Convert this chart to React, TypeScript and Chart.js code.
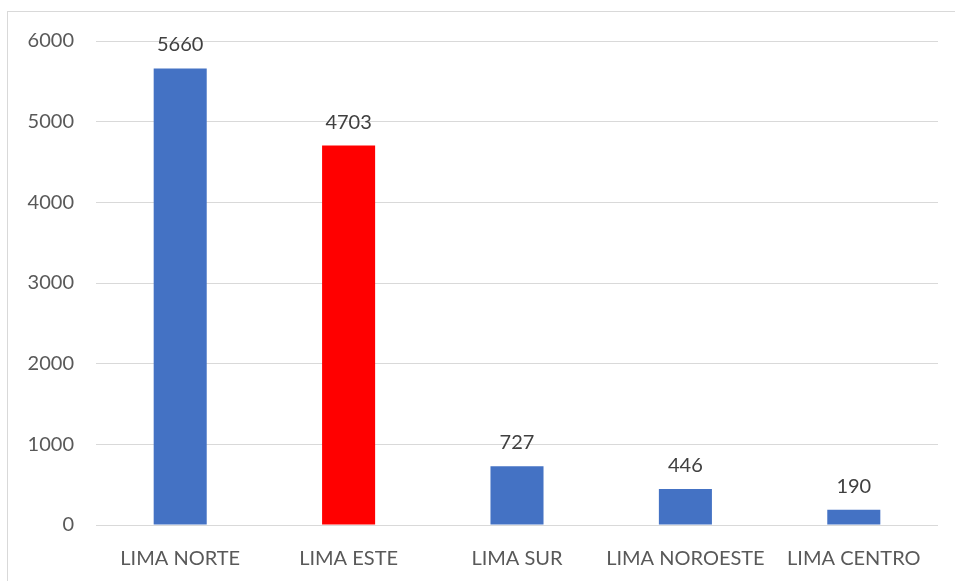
import React, { useEffect, useRef } from "react";
import { Chart, registerables } from "chart.js";

Chart.register(...registerables);

const categories = ["LIMA NORTE", "LIMA ESTE", "LIMA SUR", "LIMA NOROESTE", "LIMA CENTRO"];
const values = [5660, 4703, 727, 446, 190];
const barColors = ["#4472C4", "#FF0000", "#4472C4", "#4472C4", "#4472C4"];
const yTicks = [0, 1000, 2000, 3000, 4000, 5000, 6000];

const FONT = "Lato, 'Open Sans', sans-serif";

const labelPlugin = {
  id: "valueLabels",
  afterDatasetsDraw(chart: any) {
    const ctx = chart.ctx;
    const meta = chart.getDatasetMeta(0);
    ctx.save();
    ctx.font = `20px ${FONT}`;
    ctx.fillStyle = "#404040";
    ctx.textAlign = "center";
    ctx.textBaseline = "alphabetic";
    meta.data.forEach((bar: any, i: number) => {
      ctx.fillText(String(values[i]), bar.x, bar.y - 17);
    });
    ctx.restore();
  },
};

export default function App() {
  const ref = useRef<HTMLCanvasElement>(null);
  useEffect(() => {
    const chart = new Chart(ref.current!, {
      type: "bar",
      data: {
        labels: categories,
        datasets: [
          {
            data: values,
            backgroundColor: barColors,
            categoryPercentage: 1,
            barPercentage: 0.315,
          },
        ],
      },
      options: {
        animation: false,
        responsive: false,
        maintainAspectRatio: false,
        layout: { padding: { top: 41, right: 17, left: 0, bottom: 0 } },
        plugins: { legend: { display: false }, tooltip: { enabled: false } },
        scales: {
          x: {
            grid: { display: false },
            border: { display: false },
            ticks: { color: "#595959", font: { family: FONT, size: 20 }, padding: 14, maxRotation: 0, autoSkip: false },
            afterFit: (s: any) => { s.height = 56; },
          },
          y: {
            min: 0,
            max: 6000,
            afterBuildTicks: (s: any) => { s.ticks = yTicks.map((v) => ({ value: v })); },
            grid: { color: "#d9d9d9", lineWidth: 1, drawTicks: false },
            border: { display: false },
            ticks: {
              color: "#595959",
              font: { family: FONT, size: 20 },
              padding: 22,
              callback: (v: any) => String(v),
            },
            afterFit: (s: any) => { s.width = 96; },
          },
        },
      },
      plugins: [labelPlugin],
    });
    return () => chart.destroy();
  }, []);
  return (
    <div style={{ position: "fixed", left: 0, top: 0, width: 955, height: 581, background: "#fff", overflow: "hidden" }}>
      <div style={{ position: "absolute", left: 7, top: 11, width: 1000, height: 1000, border: "1px solid #d9d9d9" }} />
      <canvas ref={ref} width={955} height={581} style={{ position: "absolute", left: 0, top: 0 }} />
    </div>
  );
}
